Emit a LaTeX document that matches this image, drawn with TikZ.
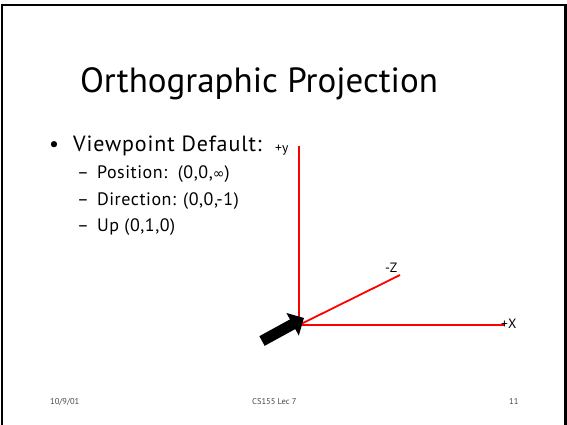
\documentclass[tikz,border=0pt]{standalone}
\usepackage{fontspec}
\setmainfont{PT Sans}
\newfontfamily\symfont{DejaVu Sans}
\usetikzlibrary{arrows.meta}
\definecolor{axisred}{RGB}{255,0,0}
\definecolor{footgray}{RGB}{70,70,70}
\begin{document}
\begin{tikzpicture}[x=1pt,y=-1pt,
  axis/.style={draw=axisred,line width=1.8pt},
  txt/.style={inner sep=0pt,anchor=base west},
  subtxt/.style={inner sep=0pt,anchor=base west,font=\fontsize{18}{20}\selectfont},
  foot/.style={inner sep=0pt,anchor=base west,text=footgray,font=\fontsize{8.5}{10}\selectfont},
  lbl/.style={inner sep=0pt,anchor=base west,font=\fontsize{13.5}{15}\selectfont}]
\useasboundingbox (0,0) rectangle (567,424);
% slide frame
\draw[line width=2.2pt] (1.6,4.6) -- (565.4,4.6) -- (565.4,440);
\draw[line width=2.2pt] (1.6,3.5) -- (1.6,440);
% title
\node[inner sep=0pt,anchor=base,font=\fontsize{35}{40}\selectfont] (title) at (259,92) {Orthographic Projection};
% bullet list
\node[txt,font=\fontsize{22}{24}\selectfont] (b1) at (49,151)
  {•\hspace{14pt}\addfontfeatures{LetterSpace=4}Viewpoint Default:};
\node[subtxt] (s1) at (77,178)
  {–\hspace{8pt}\addfontfeatures{LetterSpace=3}Position:\ \ (0,0,{\symfont\fontsize{14}{15}\selectfont ∞})};
\node[subtxt] (s2) at (77,205)
  {–\hspace{8pt}\addfontfeatures{LetterSpace=3}Direction: (0,0,-1)};
\node[subtxt] (s3) at (77,231)
  {–\hspace{8pt}\addfontfeatures{LetterSpace=3}Up (0,1,0)};
% axes
\coordinate (o) at (299,325);
\coordinate (ytop) at (299,146);
\coordinate (xend) at (505,325);
\coordinate (zend) at (400,275);
\draw[axis] (ytop) -- (o);
\draw[axis] (o) -- (xend);
\draw[axis] (o) -- (zend);
\node[lbl] (ylab) at (275,152) {+y};
\node[lbl] (zlab) at (385,272) {-Z};
\node[lbl] (xlab) at (501,328) {+X};
% viewing direction arrow
\coordinate (tail) at (262,341);
\coordinate (tip) at (304,318);
\draw[line width=11pt,-{Triangle[length=13pt,width=25pt]}] (tail) -- (tip);
% footer
\node[foot] (date) at (50,404) {10/9/01};
\node[foot] (course) at (252,404) {CS155 Lec 7};
\node[foot] (page) at (509,404) {11};
\end{tikzpicture}
\end{document}
